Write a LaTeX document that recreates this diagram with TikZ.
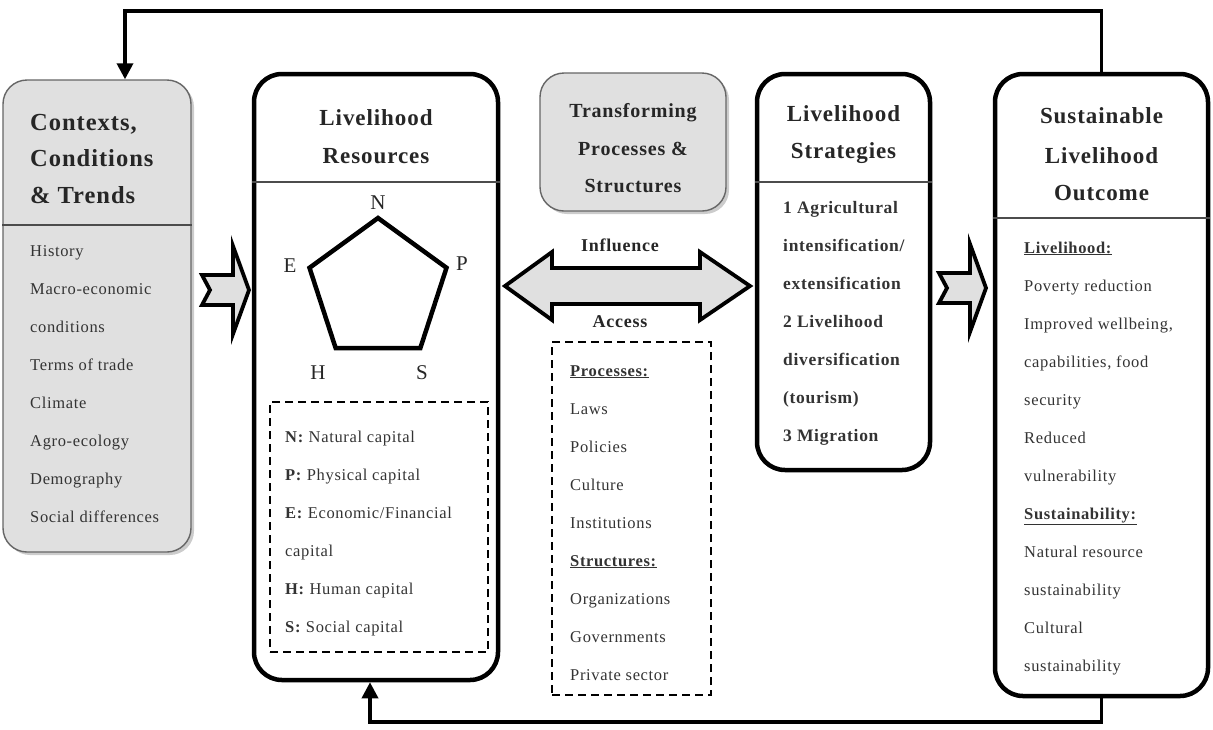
\documentclass[tikz,border=0pt]{standalone}
\usepackage{fontspec}
\setmainfont[LetterSpace=4]{Liberation Serif}
\usetikzlibrary{arrows.meta,shadows}

\newcommand\titlefont{\fontsize{23}{27}\selectfont\bfseries}
\newcommand\itemfont{\fontsize{16.5}{19}\selectfont}

\begin{document}
\begin{tikzpicture}[x=1pt,y=-1pt,
    bigbox/.style={draw,line width=4.5pt,rounded corners=28pt,inner sep=0pt},
    greybox/.style={draw=black!60,line width=1.4pt,fill=black!12,rounded corners=24pt,inner sep=0pt,
      drop shadow={shadow xshift=3pt,shadow yshift=-3pt,fill=black!40}},
    sep/.style={draw=black!70,line width=1.6pt},
    dashbox/.style={draw,line width=2pt,dash pattern=on 8pt off 5pt,inner sep=0pt},
    title/.style={font=\titlefont,text=black!85,inner sep=0pt,anchor=base},
    item/.style={font=\itemfont,text=black!80,inner sep=0pt,anchor=base west},
    bolditem/.style={item,font=\fontsize{17.5}{20}\selectfont\bfseries},
    midlab/.style={font=\fontsize{18}{22}\selectfont\bfseries,text=black!85,inner sep=0pt},
    corner/.style={font=\fontsize{21}{25}\selectfont,text=black!85,inner sep=0pt},
    fat/.style={draw,line width=3.8pt,fill=black!12,line join=miter},
    pent/.style={line width=4.5pt,line join=miter},
    fback/.style={line width=3.5pt,-{Triangle[length=16pt,width=16pt]}}]

\useasboundingbox (0,0) rectangle (1213,729);

\node[greybox,minimum width=188,minimum height=472] (ctx) at (97,316) {};
\node[bigbox,minimum width=244,minimum height=606] (res) at (376,377) {};
\node[greybox,minimum width=186,minimum height=138] (trans) at (633,142) {};
\node[bigbox,minimum width=173,minimum height=396] (strat) at (843.5,272) {};
\node[bigbox,minimum width=213,minimum height=622] (sus) at (1101.5,385) {};

\coordinate (y1) at (0,225);
\coordinate (y2) at (0,182);
\coordinate (y3) at (0,218);
\draw[sep] (ctx.west |- y1) -- (ctx.east |- y1);
\draw[sep] (res.west |- y2) -- (res.east |- y2);
\draw[sep] (strat.west |- y2) -- (strat.east |- y2);
\draw[sep] (sus.west |- y3) -- (sus.east |- y3);

\node[title,anchor=base west,font=\fontsize{24.5}{28}\selectfont\bfseries] (ctxa) at (30,130) {Contexts,};
\node[title,anchor=base west,font=\fontsize{24.5}{28}\selectfont\bfseries] (ctxb) at (30,166) {Conditions};
\node[title,anchor=base west,font=\fontsize{24.5}{28}\selectfont\bfseries] (ctxc) at (30,203) {\& Trends};
\node[title] (resa) at (376,125) {Livelihood};
\node[title] (resb) at (376,163) {Resources};
\node[title,font=\fontsize{20}{24}\selectfont\bfseries] (transa) at (633,117) {Transforming};
\node[title,font=\fontsize{20}{24}\selectfont\bfseries] (transb) at (633,155) {Processes \&};
\node[title,font=\fontsize{20}{24}\selectfont\bfseries] (transc) at (633,192) {Structures};
\node[title] (strata) at (843.5,121) {Livelihood};
\node[title] (stratb) at (843.5,158) {Strategies};
\node[title] (susa) at (1101.5,123) {Sustainable};
\node[title] (susb) at (1101.5,163) {Livelihood};
\node[title] (susc) at (1101.5,200) {Outcome};

\foreach \t [count=\i from 0] in {History,Macro-economic,conditions,Terms of trade,Climate,Agro-ecology,Demography,Social differences}
  \node[item] (ctxi\i) at (30,256+38*\i) {\t};

\coordinate (vN) at (378,218);
\coordinate (vP) at (446.5,267.8);
\coordinate (vS) at (420.3,348.2);
\coordinate (vH) at (335.7,348.2);
\coordinate (vE) at (309.5,267.8);
\draw[pent] (vN) -- (vP) -- (vS) -- (vH) -- (vE) -- cycle;
\node[corner] (lN) at (378,203) {N};
\node[corner] (lP) at (462,264) {P};
\node[corner] (lS) at (422,373) {S};
\node[corner] (lH) at (318,373) {H};
\node[corner] (lE) at (290,266) {E};

\node[dashbox,minimum width=218,minimum height=250] (capbox) at (379,527) {};
\foreach \t [count=\i from 0] in {{\textbf{N:} Natural capital},{\textbf{P:} Physical capital},{\textbf{E:} Economic/Financial},capital,{\textbf{H:} Human capital},{\textbf{S:} Social capital}}
  \node[item] (capi\i) at (285,442+38*\i) {\t};

\draw[fat] (505,286) -- (552,252) -- (552,268) -- (700,268) -- (700,252) -- (750,286)
  -- (700,320) -- (700,304) -- (552,304) -- (552,320) -- cycle;
\node[midlab] (infl) at (620,245) {Influence};
\node[midlab] (acc) at (620,322) {Access};

\node[dashbox,minimum width=159,minimum height=353] (procbox) at (631.5,518.5) {};
\foreach \t [count=\i from 0] in {\underline{\textbf{Processes:}},Laws,Policies,Culture,Institutions,\underline{\textbf{Structures:}},Organizations,Governments,Private sector}
  \node[item] (proci\i) at (570,376+38*\i) {\t};

\foreach \t [count=\i from 0] in {1 Agricultural,intensification/,extensification,2 Livelihood,diversification,(tourism),3 Migration}
  \node[bolditem] (strati\i) at (783,213+38*\i) {\t};

\foreach \t [count=\i from 0] in {\underline{\textbf{Livelihood:}},Poverty reduction,{Improved wellbeing,},{capabilities, food},security,Reduced,vulnerability,\underline{\textbf{Sustainability:}},Natural resource,sustainability,Cultural,sustainability}
  \node[item] (susi\i) at (1024,253+38*\i) {\t};

\draw[fat] (202,275) -- (233,275) -- (233,246) -- (249,290) -- (233,334) -- (233,305)
  -- (202,305) -- (210,290) -- cycle;
\draw[fat] (939,273) -- (970,273) -- (970,244) -- (986,288) -- (970,332) -- (970,303)
  -- (939,303) -- (947,288) -- cycle;

\coordinate (topy) at (0,11);
\coordinate (boty) at (0,722);
\draw[fback] (sus.north) -- (sus.north |- topy) -| ([xshift=28pt]ctx.north);
\draw[fback] (sus.south) -- (sus.south |- boty) -| ([xshift=-6pt]res.south);
\end{tikzpicture}
\end{document}
